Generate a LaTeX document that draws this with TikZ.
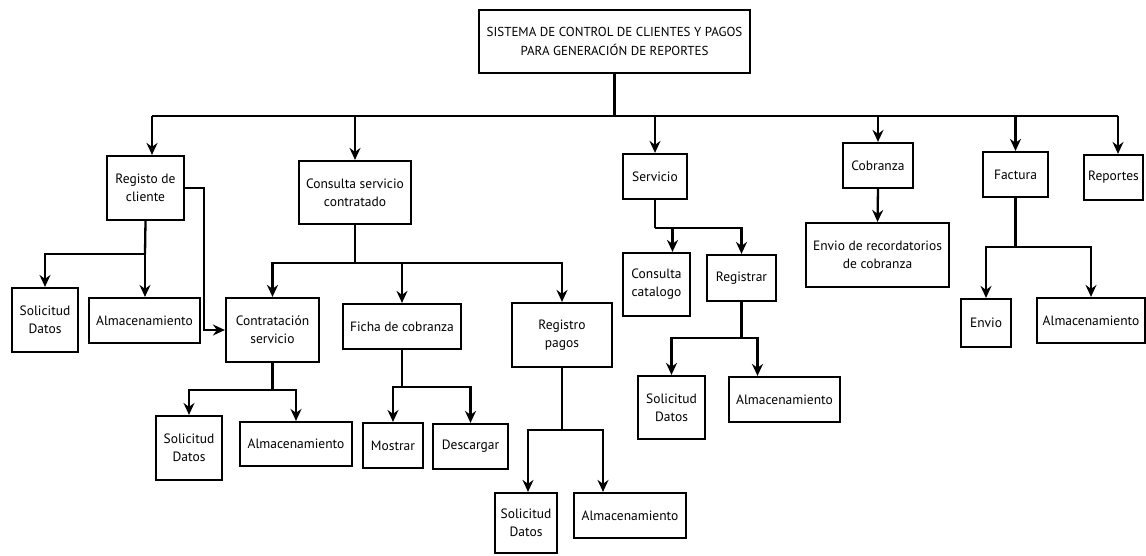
\documentclass[tikz,border=0pt]{standalone}
\usepackage{fontspec}
\setmainfont{PT Sans}
\usetikzlibrary{positioning, calc, arrows.meta}

\tikzset{
	caja/.style={draw, line width=2.2pt, align=center, inner sep=2pt, font=\fontsize{13.5}{18}\selectfont},
	linea/.style={line width=2.3pt},
	flecha/.style={line width=2.3pt, -{Stealth[length=12pt, width=11pt, inset=4pt]}}
}

\begin{document}
\begin{tikzpicture}[x=1pt, y=-1pt]
			\useasboundingbox (0,0) rectangle (1146,555);
			\node[caja, minimum width=271, minimum height=63, font=\fontsize{13}{19}\selectfont] (root) at (614.5,41.5) {SISTEMA DE CONTROL DE CLIENTES Y PAGOS\\PARA GENERACIÓN DE REPORTES};
			
			\node[caja, minimum width=77, minimum height=64] (registo) at (145.5,188) {Registo de\\cliente};
			\node[caja, minimum width=112, minimum height=63] (consulta) at (355,192.5) {Consulta servicio\\contratado};
			\node[caja, minimum width=64, minimum height=45] (servicio) at (655,176.5) {Servicio};
			\node[caja, minimum width=70, minimum height=45] (cobranza) at (878,165.5) {Cobranza};
			\node[caja, minimum width=65, minimum height=45] (factura) at (1015.5,174.5) {Factura};
			\node[caja, minimum width=59, minimum height=45] (reportes) at (1113.5,177.5) {Reportes};
			
			\node[caja, minimum width=66, minimum height=64] (sol1) at (45,320) {Solicitud\\Datos};
			\node[caja, minimum width=111, minimum height=45] (alm1) at (144.5,320.5) {Almacenamiento};
			\node[caja, minimum width=93, minimum height=64] (contrat) at (272.5,330) {Contratación\\servicio};
			\node[caja, minimum width=118, minimum height=45] (ficha) at (402,326.5) {Ficha de cobranza};
			\node[caja, minimum width=100, minimum height=64] (regpagos) at (562,335) {Registro\\pagos};
			\node[caja, minimum width=67, minimum height=63] (catalogo) at (656.5,284.5) {Consulta\\catalogo};
			\node[caja, minimum width=69, minimum height=46] (registrar) at (741.5,278) {Registrar};
			\node[caja, minimum width=143, minimum height=64] (recordatorio) at (877.5,255) {Envio de recordatorios\\de cobranza};
			\node[caja, minimum width=50, minimum height=48] (envio) at (986,323) {Envio};
			\node[caja, minimum width=108, minimum height=45] (alm5) at (1091,320.5) {Almacenamiento};
			
			\node[caja, minimum width=66, minimum height=64] (sol2) at (189,448) {Solicitud\\Datos};
			\node[caja, minimum width=112, minimum height=44] (alm2) at (296,444) {Almacenamiento};
			\node[caja, minimum width=60, minimum height=45] (mostrar) at (393,445.5) {Mostrar};
			\node[caja, minimum width=75, minimum height=45] (descargar) at (470.5,446.5) {Descargar};
			\node[caja, minimum width=67, minimum height=63] (sol4) at (671.5,407.5) {Solicitud\\Datos};
			\node[caja, minimum width=111, minimum height=45] (alm4) at (784.5,399.5) {Almacenamiento};
			\node[caja, minimum width=62, minimum height=60] (sol3) at (526,523) {Solicitud\\Datos};
			\node[caja, minimum width=112, minimum height=45] (alm3) at (630,515.5) {Almacenamiento};
			
			\coordinate (bus) at (615,116);
			\draw[linea] (root.south) -- (root.south |- bus);
			\draw[linea] ([xshift=6.5]registo.north |- bus) -- ([xshift=4.5]reportes.north |- bus);
			\draw[flecha] ([xshift=6.5]registo.north |- bus) -- ([xshift=6.5]registo.north);
			\draw[flecha] (consulta.north |- bus) -- (consulta.north);
			\draw[flecha] (servicio.north |- bus) -- (servicio.north);
			\draw[flecha] (cobranza.north |- bus) -- (cobranza.north);
			\draw[flecha] (factura.north |- bus) -- (factura.north);
			\draw[flecha] ([xshift=4.5]reportes.north |- bus) -- ([xshift=4.5]reportes.north);
			
			\coordinate (r0) at (204,188);
			\coordinate (r1) at (145,254);
			\draw[flecha] (registo.east) -- (r0) |- (contrat.west);
			\draw[linea] (registo.south) -- (r1);
			\draw[flecha] (r1) -| (sol1.north);
			\draw[flecha] (r1) -- (r1 |- alm1.north);
			
			\coordinate (c1) at (355,263);
			\draw[linea] (consulta.south) -- (c1);
			\draw[flecha] (c1) -| (contrat.north);
			\draw[flecha] (c1) -| (ficha.north);
			\draw[flecha] (c1) -| (regpagos.north);
			
			\coordinate (c2) at (272.5,390);
			\draw[linea] (contrat.south) -- (c2);
			\draw[flecha] (c2) -| (sol2.north);
			\draw[flecha] (c2) -| (alm2.north);
			
			\coordinate (c3) at (402,387);
			\draw[linea] (ficha.south) -- (c3);
			\draw[flecha] (c3) -| (mostrar.north);
			\draw[flecha] (c3) -| (descargar.north);
			
			\coordinate (c4) at (562,430);
			\draw[linea] (regpagos.south) -- (c4);
			\draw[flecha] (c4) -| ([xshift=2]sol3.north);
			\draw[flecha] (c4) -| ([xshift=-27]alm3.north);
			
			\coordinate (s1) at (655,228);
			\draw[linea] (servicio.south) -- (s1);
			\draw[flecha] (s1) -| ([xshift=16]catalogo.north);
			\draw[flecha] (s1) -| (registrar.north);
			
			\coordinate (s2) at (741.5,338);
			\draw[linea] (registrar.south) -- (s2);
			\draw[flecha] (s2) -| (sol4.north);
			\draw[flecha] (s2) -| ([xshift=-27]alm4.north);
			
			\draw[flecha] (cobranza.south) -- (recordatorio.north);
			
			\coordinate (f1) at (1015.5,247);
			\draw[linea] (factura.south) -- (f1);
			\draw[flecha] (f1) -| (envio.north);
			\draw[flecha] (f1) -| (alm5.north);
		\end{tikzpicture}
\end{document}
